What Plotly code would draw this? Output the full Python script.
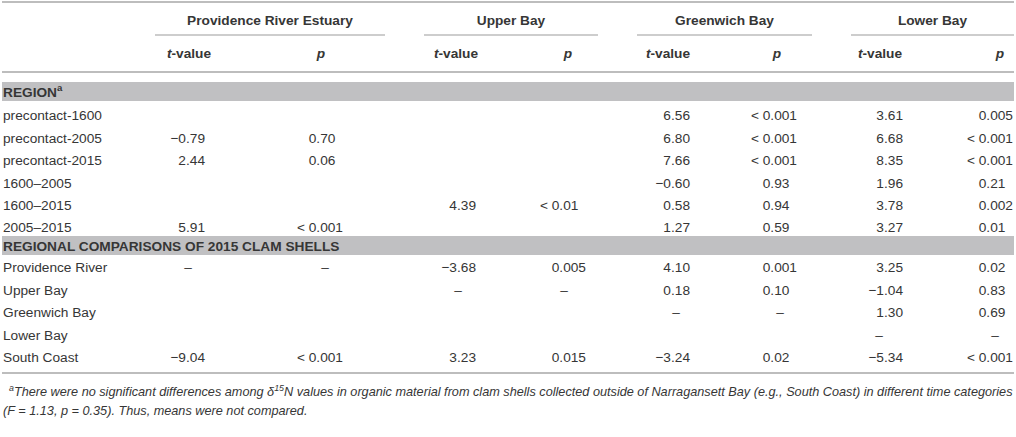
import plotly.graph_objects as go

# ---- table data ----
groups = ["Providence River Estuary", "Upper Bay", "Greenwich Bay", "Lower Bay"]
section1 = "REGION<sup>a</sup>"
section2 = "REGIONAL COMPARISONS OF 2015 CLAM SHELLS"
region_rows = ["precontact-1600", "precontact-2005", "precontact-2015",
               "1600–2005", "1600–2015", "2005–2015"]
comp_rows = ["Providence River", "Upper Bay", "Greenwich Bay", "Lower Bay", "South Coast"]

# t and p per group, region rows followed by comparison rows ("" = empty cell)
prov_t = ["", "−0.79", "2.44", "", "", "5.91", "–", "", "", "", "−9.04"]
prov_p = ["", "0.70", "0.06", "", "", "< 0.001", "–", "", "", "", "< 0.001"]
upper_t = ["", "", "", "", "4.39", "", "−3.68", "–", "", "", "3.23"]
upper_p = ["", "", "", "", "< 0.01", "", "0.005", "–", "", "", "0.015"]
green_t = ["6.56", "6.80", "7.66", "−0.60", "0.58", "1.27", "4.10", "0.18", "–", "", "−3.24"]
green_p = ["< 0.001", "< 0.001", "< 0.001", "0.93", "0.94", "0.59", "0.001", "0.10", "–", "", "0.02"]
lower_t = ["3.61", "6.68", "8.35", "1.96", "3.78", "3.27", "3.25", "−1.04", "1.30", "–", "−5.34"]
lower_p = ["0.005", "< 0.001", "< 0.001", "0.21", "0.002", "0.01", "0.02", "0.83", "0.69", "–", "< 0.001"]

footnote1 = ("<sup>a</sup>There were no significant differences among δ<sup>15</sup>N values in organic "
             "material from clam shells collected outside of Narragansett Bay (e.g., South Coast) "
             "in different time categories")
footnote2 = "(F = 1.13, p = 0.35). Thus, means were not compared."

# ---- layout (pixel coordinates) ----
W, H = 1016, 437
FONT = "Liberation Sans"
TXT = "#363636"
LINE = "#bdbdbd"
BAND = "#c0c0c2"
FS = 13.7
DY = 2  # plotly's "middle" sits a touch high

col_t_right = [205, 476, 690, 903]
col_p_right = [343, 586, 797, 1013]
col_t_mid = [188, 458, 676, 879]
col_p_mid = [325, 564, 780, 995]
head_t = [189, 456, 668, 880]
head_p = [321, 568, 777, 1000]
under = [(155, 385), (424, 598), (637, 812), (851, 1014)]

y_group, y_under, y_sub, y_line1 = 20, 35, 53, 72
band1 = (82, 101)
y_reg0, pitch = 115, 22.4
band2 = (236, 255)
y_cmp0 = 267
y_line2 = 373
y_fn = [391, 410]

row_y = [y_reg0 + i * pitch for i in range(len(region_rows))] + \
        [y_cmp0 + i * pitch for i in range(len(comp_rows))]

fig = go.Figure()


def add_text(xs, ys, texts, pos, size=FS, family=FONT):
    fig.add_trace(go.Scatter(
        x=xs, y=[y + DY for y in ys], text=texts, mode="text", textposition=pos,
        textfont=dict(family=family, size=size, color=TXT),
        hoverinfo="skip", showlegend=False,
    ))


# row labels
add_text([3] * len(row_y), row_y, region_rows + comp_rows, "middle right")
add_text([3, 3], [sum(band1) / 2, sum(band2) / 2],
         ["<b>" + section1 + "</b>", "<b>" + section2 + "</b>"], "middle right")

# group + sub headers
add_text([(a + b) / 2 for a, b in under], [y_group] * 4, ["<b>%s</b>" % g for g in groups], "middle center")
add_text(head_t, [y_sub] * 4, ["<b><i>t</i>-value</b>"] * 4, "middle center")
add_text(head_p, [y_sub] * 4, ["<b><i>p</i></b>"] * 4, "middle center")

HID = "<span style='color:rgba(0,0,0,0)'>%s</span>"


def pad_p(s):
    # decimal alignment: pad to three decimals with invisible digits
    dec = len(s.split(".")[1])
    return s + (HID % ("0" * (3 - dec)) if dec < 3 else "")


cols = [(prov_t, prov_p), (upper_t, upper_p), (green_t, green_p), (lower_t, lower_p)]
for g, (tv, pv) in enumerate(cols):
    tx, ty, tt = [], [], []
    dx, dy, dt = [], [], []
    for y, v in zip(row_y, tv):
        if v == "–":
            dx.append(col_t_mid[g]); dy.append(y); dt.append(v)
        elif v:
            tx.append(col_t_right[g]); ty.append(y); tt.append(v)
    px, py, pt = [], [], []
    for y, v in zip(row_y, pv):
        if v == "–":
            dx.append(col_p_mid[g]); dy.append(y); dt.append(v)
        elif v:
            px.append(col_p_right[g]); py.append(y); pt.append(pad_p(v))
    add_text(tx, ty, tt, "middle left")
    add_text(px, py, pt, "middle left")
    add_text(dx, dy, dt, "middle center")

# footnote
add_text([9, 3], y_fn, ["<i>" + footnote1 + "</i>", "<i>" + footnote2 + "</i>"], "middle right", size=12.7)

shapes = [
    dict(type="line", x0=2, x1=1014, y0=2, y1=2, line=dict(color=LINE, width=2)),
    dict(type="line", x0=2, x1=1014, y0=y_line1, y1=y_line1, line=dict(color=LINE, width=2)),
    dict(type="line", x0=2, x1=1014, y0=y_line2, y1=y_line2, line=dict(color=LINE, width=2)),
    dict(type="rect", x0=2, x1=1014, y0=band1[0], y1=band1[1], line=dict(width=0), fillcolor=BAND, layer="below"),
    dict(type="rect", x0=2, x1=1014, y0=band2[0], y1=band2[1], line=dict(width=0), fillcolor=BAND, layer="below"),
]
for a, b in under:
    shapes.append(dict(type="line", x0=a, x1=b, y0=y_under, y1=y_under, line=dict(color=LINE, width=1.5)))

fig.update_layout(
    width=W, height=H, margin=dict(l=0, r=0, t=0, b=0),
    paper_bgcolor="white", plot_bgcolor="white",
    xaxis=dict(range=[0, W], visible=False, fixedrange=True),
    yaxis=dict(range=[H, 0], visible=False, fixedrange=True),
    shapes=shapes,
)
# page body has a default 8px margin; drop it so the table fills the window
fig.write_html("out.html", config={"displayModeBar": False},
               post_script="document.body.style.margin='0px';document.body.style.overflow='hidden';")
